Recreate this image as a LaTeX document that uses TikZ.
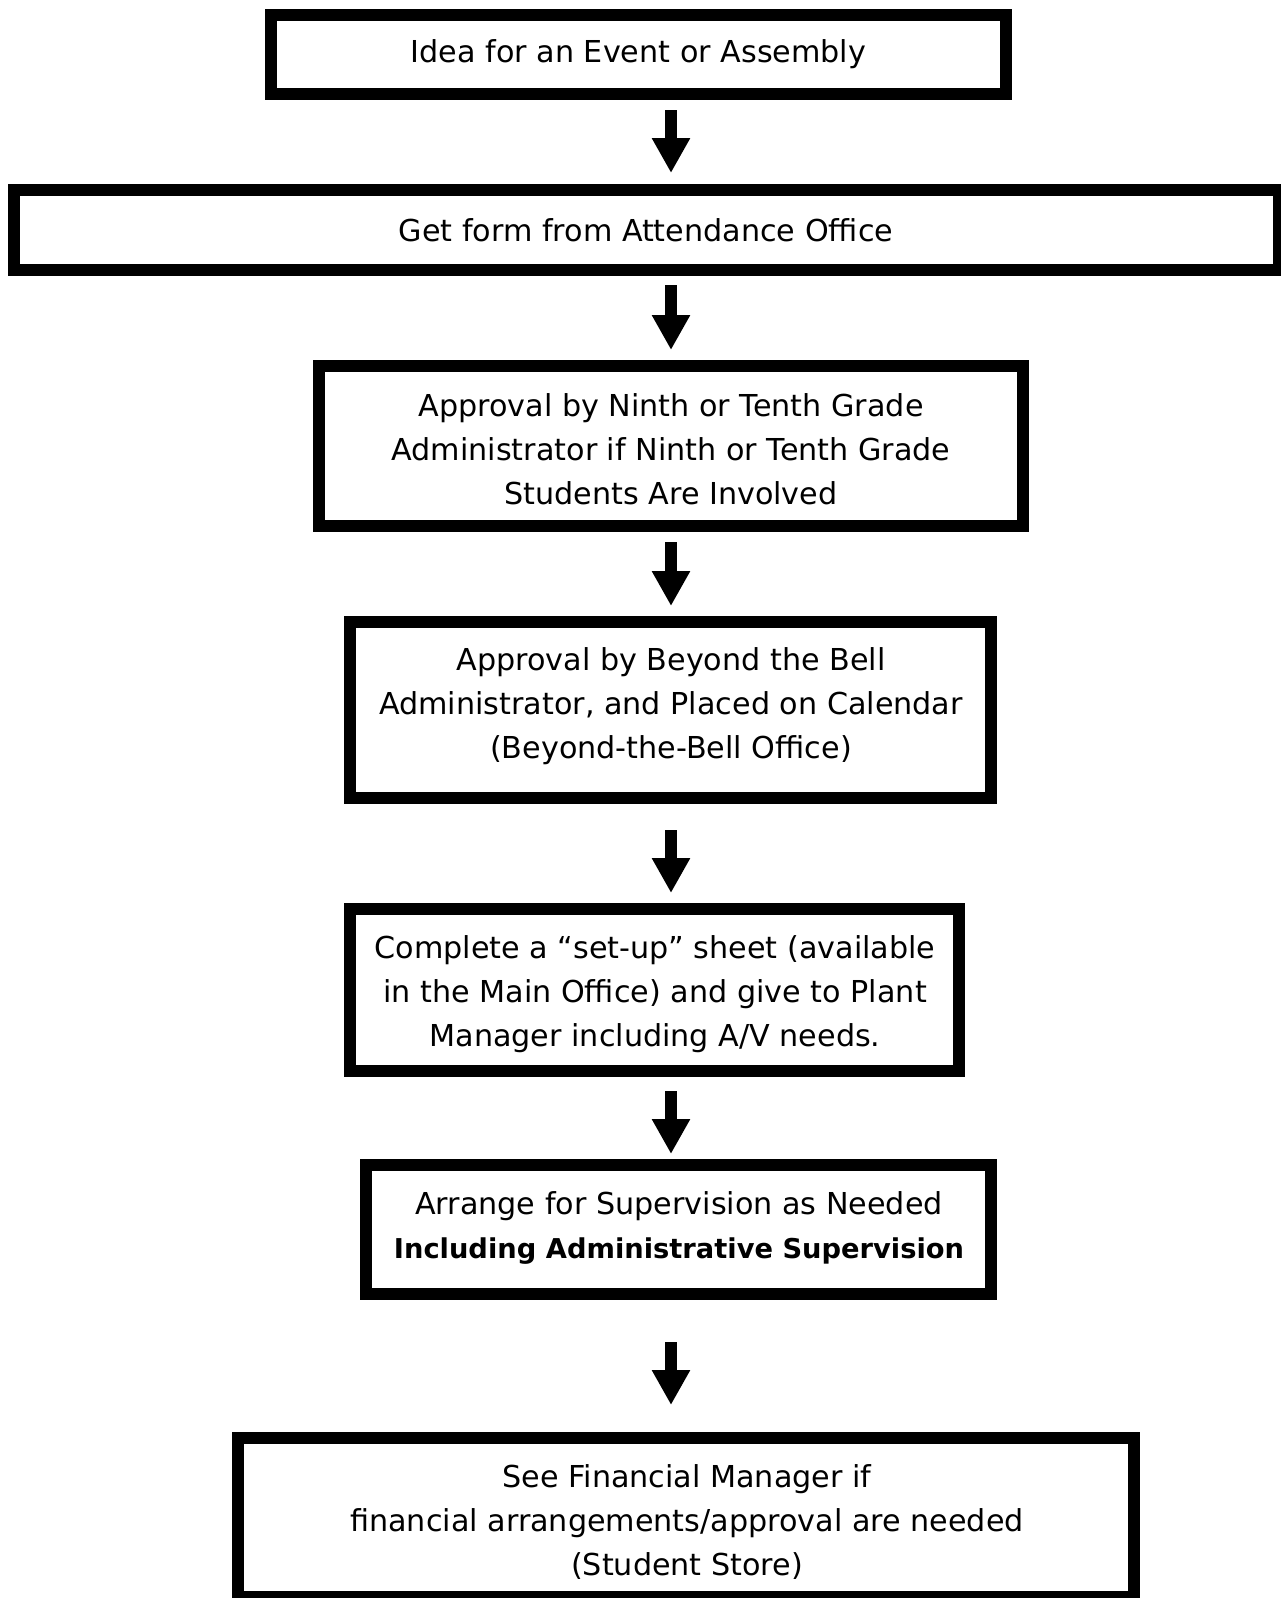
\documentclass[tikz,border=0pt]{standalone}
\usepackage{fontspec}
\setmainfont{DejaVu Sans}
\usetikzlibrary{arrows.meta}
\tikzset{
  box/.style={draw=black, line width=12pt, fill=white, inner sep=0pt, rectangle},
  txt/.style={align=center, inner sep=0pt, font=\fontsize{30.2}{44}\selectfont},
  flow/.style={line width=12pt, -{Triangle[width=36pt,length=35pt]}},
}
\begin{document}
\begin{tikzpicture}[x=1pt,y=-1pt]
\useasboundingbox (0,0) rectangle (1280,1598);
\coordinate (ax) at (671,0);
\node[box, minimum width=735pt, minimum height=79pt] (b1) at (638.5,54.5) {};
\node[box, minimum width=1265pt, minimum height=80pt] (b2) at (646.5,230) {};
\node[box, minimum width=704pt, minimum height=160pt] (b3) at (671,446) {};
\node[box, minimum width=641pt, minimum height=176pt] (b4) at (670.5,710) {};
\node[box, minimum width=609pt, minimum height=162pt] (b5) at (654.5,990) {};
\node[box, minimum width=625pt, minimum height=129pt] (b6) at (678.5,1229.5) {};
\node[box, minimum width=896pt, minimum height=159pt] (b7) at (686,1517.5) {};

\node[txt] (t1) at (638.5,54) {Idea for an Event or Assembly};
\node[txt] (t2) at (646,230) {Get form from Attendance Office};
\node[txt] (t3) at (671,449.5) {Approval by Ninth or Tenth Grade\\Administrator if Ninth or Tenth Grade\\Students Are Involved};
\node[txt] (t4) at (671,706) {Approval by Beyond the Bell\\Administrator, and Placed on Calendar\\(Beyond-the-Bell Office)};
\node[txt] (t5) at (655,994.5) {Complete a “set-up” sheet (available\\in the Main Office) and give to Plant\\Manager including A/V needs.};
\node[txt] (t6) at (679,1228) {Arrange for Supervision as Needed\\{\fontsize{27.3}{44}\selectfont\bfseries Including Administrative Supervision}};
\node[txt] (t7) at (687,1522) {See Financial Manager if\\financial arrangements/approval are needed\\(Student Store)};

\draw[flow, shorten <=10pt, shorten >=11pt] (b1.south -| ax) -- (b2.north -| ax);
\draw[flow, shorten <=9pt, shorten >=10pt] (b2.south -| ax) -- (b3.north -| ax);
\draw[flow, shorten <=10pt, shorten >=10pt] (b3.south -| ax) -- (b4.north -| ax);
\draw[flow, shorten <=26pt, shorten >=10pt] (b4.south -| ax) -- (b5.north -| ax);
\draw[flow, shorten <=14pt, shorten >=5pt] (b5.south -| ax) -- (b6.north -| ax);
\draw[flow, shorten <=42pt, shorten >=27pt] (b6.south -| ax) -- (b7.north -| ax);
\end{tikzpicture}
\end{document}
